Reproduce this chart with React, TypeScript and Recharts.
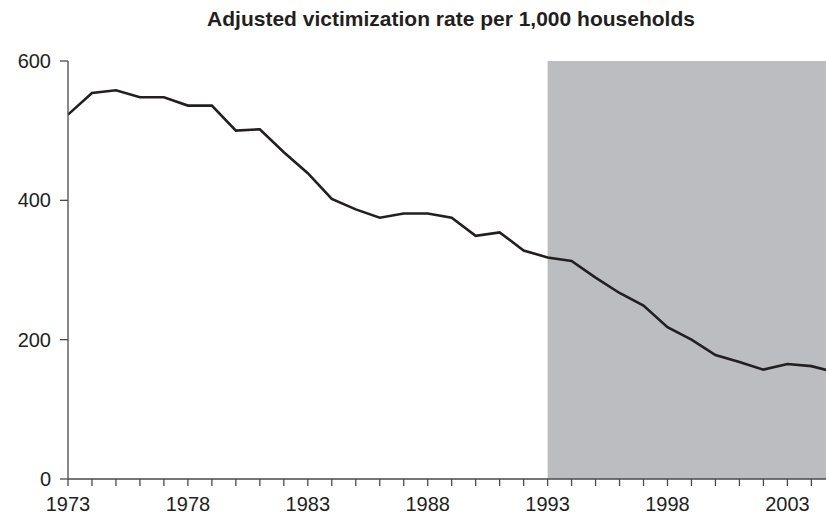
import React from "react";
import { LineChart, Line, XAxis, YAxis, ReferenceArea } from "recharts";

const years: number[] = [
  1973, 1974, 1975, 1976, 1977, 1978, 1979, 1980, 1981, 1982, 1983, 1984, 1985,
  1986, 1987, 1988, 1989, 1990, 1991, 1992, 1993, 1994, 1995, 1996, 1997, 1998,
  1999, 2000, 2001, 2002, 2003, 2004, 2005,
];
const rates: number[] = [
  523, 554, 558, 548, 548, 536, 536, 500, 502, 469, 439, 402, 387, 375, 381,
  381, 375, 349, 354, 328, 318, 313, 289, 267, 249, 218, 200, 178, 168, 157,
  165, 162, 153,
];
const yTicks: number[] = [0, 200, 400, 600];
const xTicks: number[] = years.slice(0, 32);
const labelYears: number[] = [1973, 1978, 1983, 1988, 1993, 1998, 2003];
const shadeStart = 1993;
const title = "Adjusted victimization rate per 1,000 households";

const data = years.map((y, i) => ({ year: y, rate: rates[i] }));

const FONT = "'Liberation Sans', Arial, Helvetica, sans-serif";
const INK = "#231f20";

export default function App() {
  return (
    <div style={{ position: "absolute", left: 0, top: 0, width: 826, height: 516, background: "#fff" }}>
      <div
        style={{
          position: "absolute",
          left: 451,
          top: 7,
          transform: "translateX(-50%)",
          whiteSpace: "nowrap",
          fontFamily: FONT,
          fontWeight: "bold",
          fontSize: 21,
          lineHeight: "24px",
          color: INK,
        }}
      >
        {title}
      </div>
      <LineChart
        width={826}
        height={516}
        data={data}
        margin={{ top: 61, right: 0, bottom: 0, left: 0 }}
      >
        <ReferenceArea
          x1={shadeStart}
          x2={2004.61}
          y1={0}
          y2={600}
          fill="#bcbdc1"
          fillOpacity={1}
          stroke="none"
          ifOverflow="hidden"
        />
        <XAxis
          dataKey="year"
          type="number"
          domain={[1973, 2004.61]}
          allowDataOverflow={true}
          ticks={xTicks}
          interval={0}
          height={37}
          tickSize={7}
          tickMargin={11}
          tickFormatter={(v: number) => (labelYears.includes(v) ? String(v) : "")}
          stroke="#4a4a4a"
          strokeWidth={1.3}
          tick={{ fill: INK, fontSize: 20, fontFamily: FONT }}
        />
        <YAxis
          type="number"
          domain={[0, 600]}
          ticks={yTicks}
          width={68}
          tickSize={8}
          tickMargin={9}
          stroke="#4a4a4a"
          strokeWidth={1.3}
          tick={{ fill: INK, fontSize: 20, fontFamily: FONT }}
        />
        <Line
          type="linear"
          dataKey="rate"
          stroke={INK}
          strokeWidth={2.6}
          dot={false}
          isAnimationActive={false}
        />
      </LineChart>
    </div>
  );
}
